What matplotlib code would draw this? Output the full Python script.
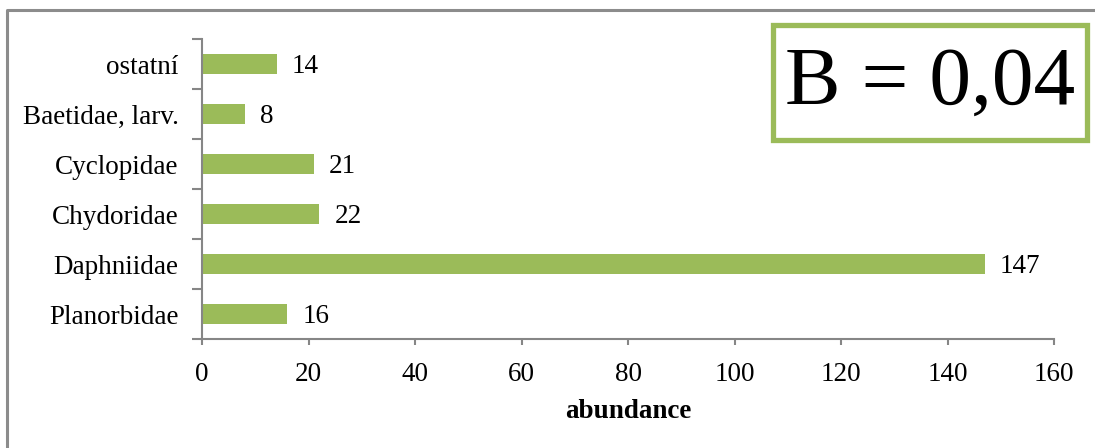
import matplotlib
matplotlib.use("Agg")
import matplotlib.pyplot as plt
from matplotlib.lines import Line2D
from matplotlib.patches import Rectangle

# Abundance by taxon (bottom to top)
categories = ["Planorbidae", "Daphniidae", "Chydoridae", "Cyclopidae",
              "Baetidae, larv.", "ostatní"]
abundance = [16, 147, 22, 21, 8, 14]
x_ticks = [0, 20, 40, 60, 80, 100, 120, 140, 160]
x_label = "abundance"
index_text = "B = 0,04"

BAR = "#9BBB59"
AXIS = "#868686"
FS = 19.5
plt.rcParams["font.family"] = ["Liberation Serif", "DejaVu Serif"]

W, H, DPI = 1095, 448, 100
fig = plt.figure(figsize=(W / DPI, H / DPI), dpi=DPI)

# Chart-area border (top and left edges)
fig.add_artist(Line2D([6.5 / W, 6.5 / W, 1.0], [0.0, 1 - 10.5 / H, 1 - 10.5 / H],
                      transform=fig.transFigure, color="#8c8c8c", lw=2.2))

ax = fig.add_axes([202 / W, 1 - 339 / H, (1054 - 202) / W, (339 - 39) / H])
ypos = list(range(len(categories)))
ax.barh(ypos, abundance, height=0.39, color=BAR)
for y, v in zip(ypos, abundance):
    ax.annotate(str(v), (v, y), xytext=(11, -1.5), textcoords="offset points",
                va="center", ha="left", fontsize=FS)

ax.set_xlim(x_ticks[0], x_ticks[-1])
ax.set_ylim(-0.5, len(categories) - 0.5)
ax.set_xticks(x_ticks)
ax.set_xticklabels([str(t) for t in x_ticks], fontsize=FS)
ax.set_yticks(ypos)
ax.set_yticklabels(categories, fontsize=FS)
ax.tick_params(axis="y", length=0, pad=17)
ax.set_yticks([y - 0.5 for y in range(len(categories) + 1)], minor=True)
ax.tick_params(axis="y", which="minor", length=7.5, width=1.5, color=AXIS,
               direction="out")
ax.tick_params(axis="x", length=4.5, width=1.5, color=AXIS, pad=12,
               direction="out")
for s in ("top", "right"):
    ax.spines[s].set_visible(False)
for s in ("left", "bottom"):
    ax.spines[s].set_color(AXIS)
    ax.spines[s].set_linewidth(1.5)
ax.set_xlabel(x_label, fontsize=FS, fontweight="bold", labelpad=9)

# Index box in the upper right corner
fig.add_artist(Rectangle((773 / W, 1 - 140 / H), (1087 - 773) / W, (140 - 25) / H,
                         transform=fig.transFigure, fill=False,
                         edgecolor=BAR, lw=3.8))
fig.text((773 + 1087) / 2 / W, 1 - 84 / H, index_text, ha="center", va="center",
         fontsize=60)

fig.savefig("out.png", dpi=DPI)
